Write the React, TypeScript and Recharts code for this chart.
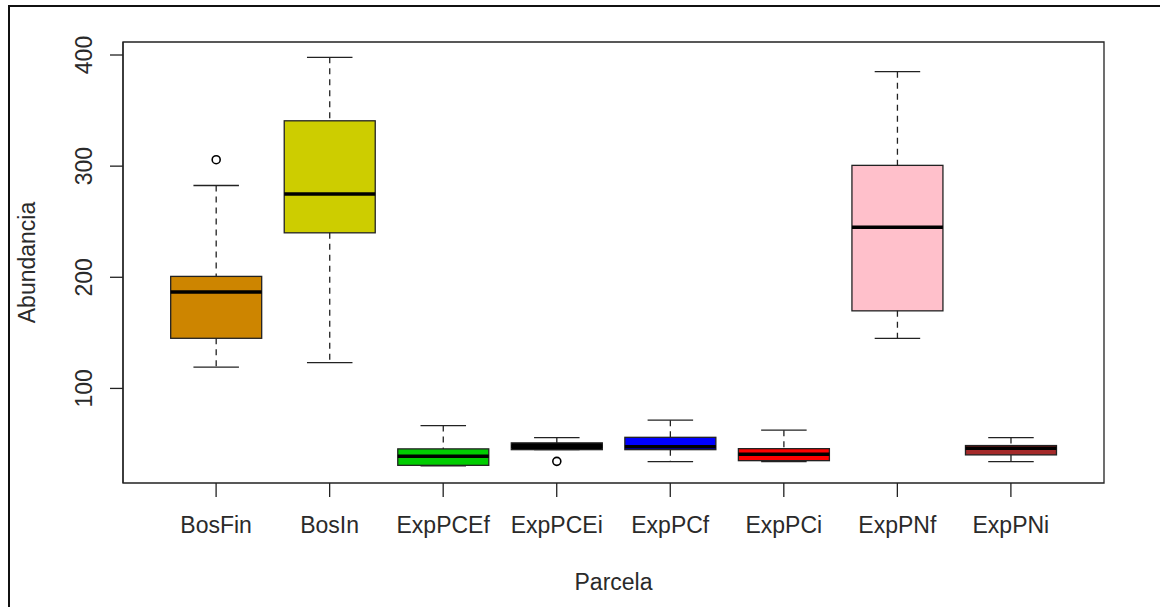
import React from 'react';
import { ComposedChart, Bar, XAxis, YAxis, ReferenceArea } from 'recharts';

const categories = ['BosFin', 'BosIn', 'ExpPCEf', 'ExpPCEi', 'ExpPCf', 'ExpPCi', 'ExpPNf', 'ExpPNi'];
const lowerWhiskers = [119.2, 123.2, 30.3, 44.9, 34.1, 34.1, 145.1, 34.1];
const q1Values = [145.1, 240.0, 30.8, 44.9, 44.9, 35.0, 169.8, 40.2];
const medians = [186.7, 274.9, 38.9, 47.9, 47.6, 40.7, 245.0, 46.1];
const q3Values = [200.8, 340.8, 45.6, 51.0, 56.0, 45.8, 300.7, 48.6];
const upperWhiskers = [282.6, 397.9, 66.6, 55.8, 71.4, 62.4, 385.0, 55.8];
const outlierValues: number[][] = [[305.8], [], [], [34.4], [], [], [], []];
const fillColors = ['#CD8500', '#CDCD00', '#00CD00', '#000000', '#0000FF', '#FF0000', '#FFC0CB', '#A52A2A'];
const yTicks = [100, 200, 300, 400];
const xTicks = [1, 2, 3, 4, 5, 6, 7, 8];
const X_DOMAIN: [number, number] = [0.18, 8.82];
const Y_DOMAIN: [number, number] = [14.9, 411.7];

const data = categories.map((name, i) => ({
  pos: i + 1,
  name,
  box: [q1Values[i], q3Values[i]],
  q1: q1Values[i],
  q3: q3Values[i],
  med: medians[i],
  lw: lowerWhiskers[i],
  uw: upperWhiskers[i],
  outliers: outlierValues[i],
  fill: fillColors[i],
}));

const FONT = '"Liberation Sans", Arial, sans-serif';
const LINE = '#222';
const TEXT = '#2a2a2a';

const BoxShape = (props: any) => {
  const { x, y, width, height, payload } = props;
  if (width == null || height == null || !payload) return null;
  const ppu = height / (payload.q3 - payload.q1);
  const toY = (v: number) => y + (payload.q3 - v) * ppu;
  const cx = x + width / 2;
  const capHalf = width / 4;
  const yTop = toY(payload.q3);
  const yBot = toY(payload.q1);
  const yMed = toY(payload.med);
  const yUw = toY(payload.uw);
  const yLw = toY(payload.lw);
  return (
    <g>
      <rect x={x} y={yTop} width={width} height={yBot - yTop} fill={payload.fill} stroke="none" />
      <line x1={cx} x2={cx} y1={yUw} y2={yTop} stroke={LINE} strokeWidth={1.3} strokeDasharray="6 5" />
      <line x1={cx} x2={cx} y1={yBot} y2={yLw} stroke={LINE} strokeWidth={1.3} strokeDasharray="6 5" />
      <line x1={cx - capHalf} x2={cx + capHalf} y1={yUw} y2={yUw} stroke={LINE} strokeWidth={1.3} />
      <line x1={cx - capHalf} x2={cx + capHalf} y1={yLw} y2={yLw} stroke={LINE} strokeWidth={1.3} />
      <rect x={x} y={yTop} width={width} height={yBot - yTop} fill="none" stroke={LINE} strokeWidth={1.3} />
      <line x1={x} x2={x + width} y1={yMed} y2={yMed} stroke="#000" strokeWidth={3.5} />
      {payload.outliers.map((o: number, k: number) => (
        <circle key={k} cx={cx} cy={toY(o)} r={4} fill="#fff" stroke="#000" strokeWidth={1.6} />
      ))}
    </g>
  );
};

const YTick = (props: any) => {
  const { x, y, payload } = props;
  return (
    <text
      x={x}
      y={y}
      transform={`rotate(-90 ${x} ${y})`}
      textAnchor="middle"
      fontSize={23}
      fontFamily={FONT}
      fill={TEXT}
    >
      {payload.value}
    </text>
  );
};

const XTick = (props: any) => {
  const { x, y, payload } = props;
  return (
    <text x={x} y={y} dy={16} textAnchor="middle" fontSize={23} fontFamily={FONT} fill={TEXT}>
      {categories[payload.value - 1]}
    </text>
  );
};

const XLabel = (props: any) => {
  const vb = props.viewBox || {};
  return (
    <text x={vb.x + vb.width / 2} y={vb.y + 107} textAnchor="middle" fontSize={23} fontFamily={FONT} fill={TEXT}>
      Parcela
    </text>
  );
};

const YLabel = (props: any) => {
  const vb = props.viewBox || {};
  const lx = vb.x + 25;
  const ly = vb.y + vb.height / 2;
  return (
    <text x={lx} y={ly} transform={`rotate(-90 ${lx} ${ly})`} textAnchor="middle" fontSize={23} fontFamily={FONT} fill={TEXT}>
      Abundancia
    </text>
  );
};

export default function App() {
  return (
    <div style={{ position: 'fixed', left: 0, top: 0, width: 1160, height: 607, overflow: 'hidden', background: '#fff' }}>
      <div
        style={{
          position: 'absolute',
          left: 8,
          top: 5,
          width: 1160,
          height: 610,
          borderTop: '2px solid #111',
          borderLeft: '2px solid #111',
        }}
      />
      <div style={{ position: 'absolute', left: 0, top: 0 }}>
        <ComposedChart
          width={1160}
          height={607}
          data={data}
          margin={{ top: 42, right: 56, bottom: 14, left: 10 }}
        >
          <XAxis
            dataKey="pos"
            type="number"
            domain={X_DOMAIN}
            ticks={xTicks}
            allowDataOverflow
            axisLine={false}
            tickSize={14}
            tickMargin={20}
            tickLine={{ stroke: LINE, strokeWidth: 1.3 }}
            tick={<XTick />}
            height={110}
            interval={0}
            label={{ content: <XLabel /> }}
          />
          <YAxis
            type="number"
            domain={Y_DOMAIN}
            ticks={yTicks}
            allowDataOverflow
            axisLine={{ stroke: LINE, strokeWidth: 1.3 }}
            tickSize={13}
            tickMargin={18}
            tickLine={{ stroke: LINE, strokeWidth: 1.3 }}
            tick={<YTick />}
            width={113}
            interval={0}
            label={{ content: <YLabel /> }}
          />
          <Bar dataKey="box" shape={<BoxShape />} isAnimationActive={false} />
          <ReferenceArea
            x1={X_DOMAIN[0]}
            x2={X_DOMAIN[1]}
            y1={Y_DOMAIN[0]}
            y2={Y_DOMAIN[1]}
            fill="none"
            fillOpacity={0}
            stroke={LINE}
            strokeWidth={1.3}
            ifOverflow="visible"
          />
        </ComposedChart>
      </div>
    </div>
  );
}
